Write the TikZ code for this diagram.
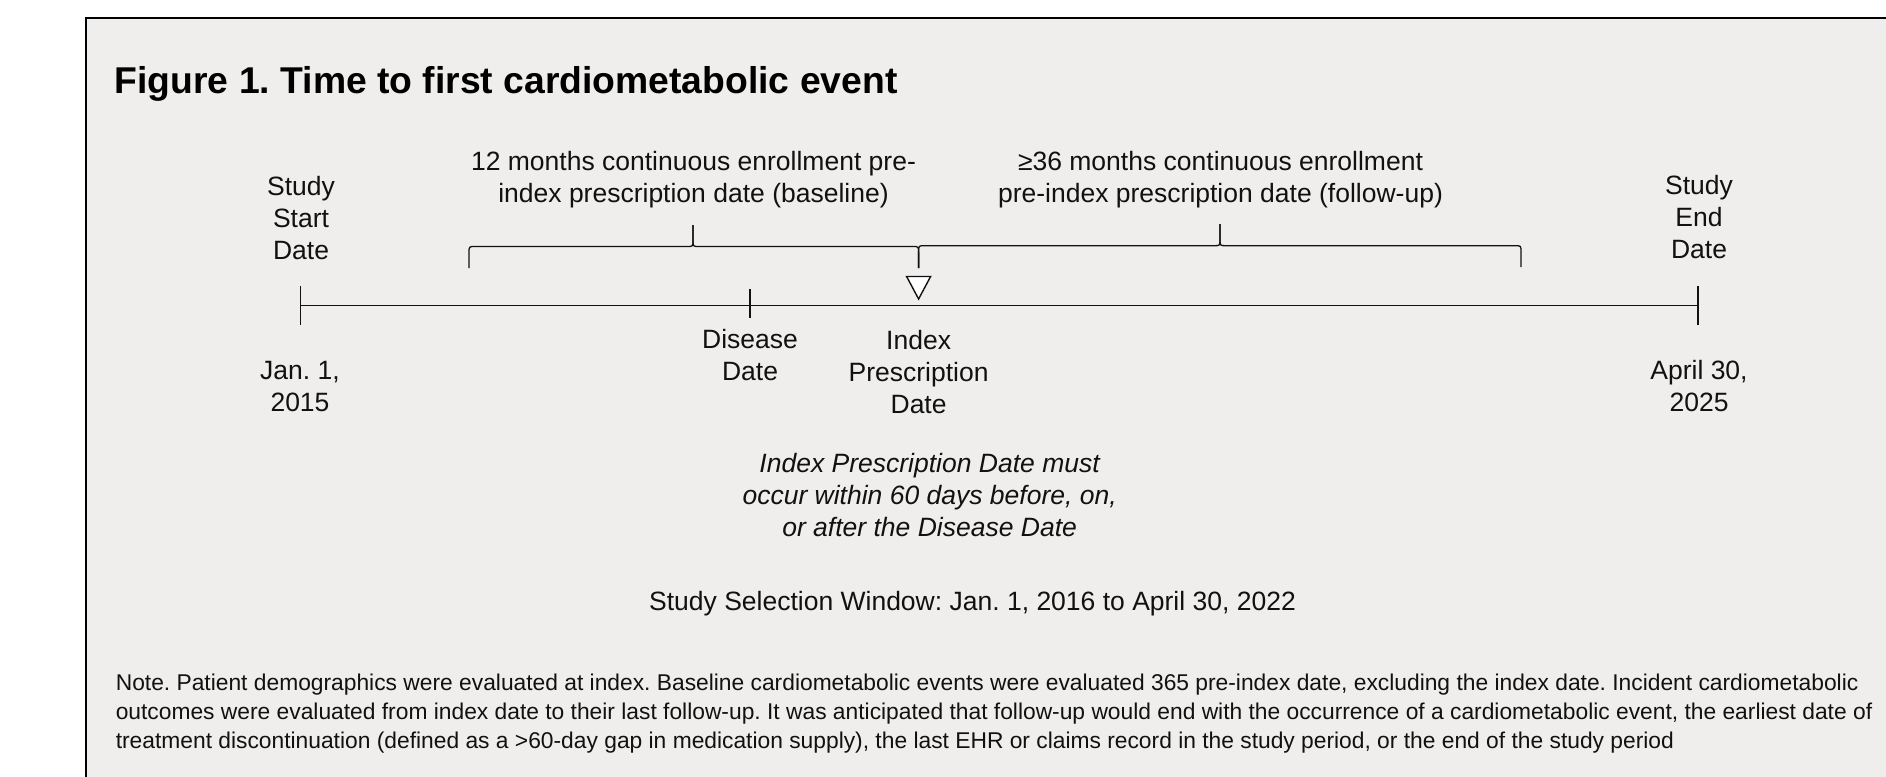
\documentclass[tikz,border=0pt]{standalone}
\usepackage{fontspec}
\setmainfont{Liberation Sans}
\definecolor{panel}{HTML}{EFEEED}
\definecolor{ink}{HTML}{111111}
\newcommand{\fls}{\rule{0pt}{20pt}}
\newcommand{\fln}{\rule{0pt}{18pt}}
\begin{document}
\frenchspacing
\begin{tikzpicture}[x=1pt,y=-1pt,
  lbl/.style={font=\fontsize{26.5}{32}\selectfont, align=center, inner sep=0pt, anchor=north, text=ink},
  lblit/.style={lbl, font=\fontsize{26.5}{32}\selectfont\itshape},
  axisline/.style={draw=ink, line width=1.4pt},
  bracepath/.style={draw=ink, line width=1.3pt},
  frame/.style={draw=black, line width=2.6pt, fill=panel}]
\useasboundingbox (0,0) rectangle (1886,776);
\clip (0,0) rectangle (1886,776);
\fill[white] (0,0) rectangle (1886,776);
\draw[frame] (86,18) rectangle (1960,860);

% title
\node[anchor=base west, inner sep=0pt, font=\fontsize{37.3}{44}\selectfont\bfseries, text=black] (title) at (114.5,93.3) {Figure 1. Time to first cardiometabolic event};

% timeline coordinates
\coordinate (tS) at (300.7,305.7);
\coordinate (tE) at (1698,305.7);
\coordinate (tD) at (750,305.7);
\coordinate (tI) at (918.6,305.7);

\draw[axisline] (tS) -- (tE);
\draw[axisline] ([yshift=19.5pt]tS) -- ([yshift=-19.5pt]tS);
\draw[axisline] ([yshift=19.5pt]tE) -- ([yshift=-19.5pt]tE);
\draw[axisline] ([yshift=16.4pt]tD) -- ([yshift=-12.6pt]tD);

% index triangle
\draw[draw=ink, line width=1.4pt, fill=white, line join=miter] (906.6,276.5) -- (930.6,276.5) -- (918.6,299) -- cycle;

% braces
\draw[bracepath] (469,268) -- (469,253) .. controls (469,246.5) .. (475,246.5) -- (687,246.5) .. controls (693,246.5) .. (693,240) -- (693,225);
\draw[bracepath] (693,225) -- (693,240) .. controls (693,246.5) .. (699,246.5) -- (912.6,246.5) .. controls (918.6,246.5) .. (918.6,253) -- (918.6,268);
\draw[bracepath] (918.6,268) -- (918.6,252) .. controls (918.6,245.7) .. (924.6,245.7) -- (1214,245.7) .. controls (1220,245.7) .. (1220,239) -- (1220,224);
\draw[bracepath] (1220,224) -- (1220,239) .. controls (1220,245.7) .. (1226,245.7) -- (1515,245.7) .. controls (1521,245.7) .. (1521,252) -- (1521,267);

% labels
\node[lbl] (startlbl) at (301,175) {\fls Study\\Start\\Date};
\node[lbl] (startdate) at (300,359) {\fls Jan. 1,\\2015};
\node[lbl] (endlbl) at (1699,174.6) {\fls Study\\End\\Date};
\node[lbl] (enddate) at (1699,359) {\fls April 30,\\2025};
\node[lbl] (disease) at (750,328.3) {\fls Disease\\Date};
\node[lbl] (index) at (918.6,329) {\fls Index\\Prescription\\Date};
\node[lbl] (baseline) at (693.5,150) {\fls 12 months continuous enrollment pre-\\index prescription date (baseline)};
\node[lbl] (followup) at (1220.5,150.5) {\fls ≥36 months continuous enrollment\\pre-index prescription date (follow-up)};
\node[lblit] (constraint) at (929.6,452.3) {\fls Index Prescription Date must\\occur within 60 days before, on,\\or after the Disease Date};
\node[anchor=base, inner sep=0pt, font=\fontsize{26.5}{32}\selectfont, text=ink] (window) at (972.5,610) {Study Selection Window: Jan. 1, 2016 to April 30, 2022};

% note
\node[anchor=north west, inner sep=0pt, align=left, font=\fontsize{22.8}{29}\selectfont, text=ink] (note) at (115.6,672.7) {\fln Note. Patient demographics were evaluated at index. Baseline cardiometabolic events were evaluated 365 pre-index date, excluding the index date. Incident cardiometabolic\\outcomes were evaluated from index date to their last follow-up. It was anticipated that follow-up would end with the occurrence of a cardiometabolic event, the earliest date of\\treatment discontinuation (defined as a >60-day gap in medication supply), the last EHR or claims record in the study period, or the end of the study period};
\end{tikzpicture}
\end{document}
